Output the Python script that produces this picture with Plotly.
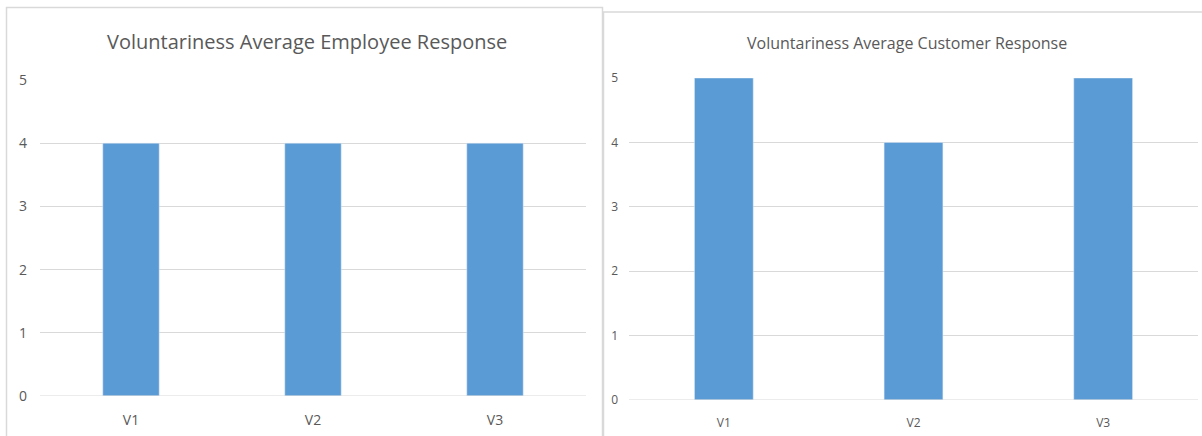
import plotly.graph_objects as go

# Average voluntariness scores per item
categories = ["V1", "V2", "V3"]
employee_avg = [4, 4, 4]
customer_avg = [5, 4, 5]
y_ticks = [0, 1, 2, 3, 4, 5]

W, H = 1202, 436
BAR = "#5b9bd5"
GRID = "#d9d9d9"
TXT = "#595959"
FONT = "Open Sans"


def px_x(v):
    return v / W


def px_y(v):
    return 1 - v / H


fig = go.Figure()
fig.add_trace(go.Bar(x=categories, y=employee_avg, marker_color=BAR, width=0.31,
                     xaxis="x", yaxis="y", hoverinfo="x+y"))
fig.add_trace(go.Bar(x=categories, y=customer_avg, marker_color=BAR, width=0.31,
                     xaxis="x2", yaxis="y2", hoverinfo="x+y"))

axis_common = dict(showline=False, zeroline=False, ticks="", fixedrange=True,
                   automargin=False)

fig.update_layout(
    width=W, height=H,
    margin=dict(l=0, r=0, t=0, b=0, autoexpand=False),
    paper_bgcolor="white", plot_bgcolor="white",
    showlegend=False,
    font=dict(family=FONT, color=TXT),
    xaxis=dict(domain=[px_x(40), px_x(586)], anchor="y", showgrid=False,
               tickfont=dict(size=14, color=TXT), ticklabelstandoff=14, **axis_common),
    yaxis=dict(domain=[px_y(396), px_y(80)], anchor="x", range=[0, 5],
               tickvals=y_ticks, showgrid=True, gridcolor=GRID, gridwidth=1,
               tickfont=dict(size=14, color=TXT), ticklabelstandoff=12, **axis_common),
    xaxis2=dict(domain=[px_x(629), px_x(1198)], anchor="y2", showgrid=False,
                tickfont=dict(size=12, color=TXT), ticklabelstandoff=14, **axis_common),
    yaxis2=dict(domain=[px_y(400), px_y(78)], anchor="x2", range=[0, 5],
                tickvals=y_ticks, showgrid=True, gridcolor=GRID, gridwidth=1,
                tickfont=dict(size=12, color=TXT), ticklabelstandoff=10, **axis_common),
    shapes=[
        # chart frames
        dict(type="rect", xref="paper", yref="paper",
             x0=px_x(6.5), x1=px_x(602.5), y0=px_y(440), y1=px_y(7.5),
             line=dict(color=GRID, width=1.5), fillcolor="rgba(0,0,0,0)", layer="below"),
        dict(type="rect", xref="paper", yref="paper",
             x0=px_x(603.5), x1=px_x(1206), y0=px_y(440), y1=px_y(12),
             line=dict(color=GRID, width=1.5), fillcolor="rgba(0,0,0,0)", layer="below"),
        # baselines at zero
        dict(type="line", xref="x domain", yref="y", x0=0, x1=1, y0=0, y1=0,
             line=dict(color=GRID, width=1)),
        dict(type="line", xref="x2 domain", yref="y2", x0=0, x1=1, y0=0, y1=0,
             line=dict(color=GRID, width=1)),
    ],
    annotations=[
        dict(text="Voluntariness Average Employee Response", xref="paper", yref="paper",
             x=px_x(307), y=px_y(42), showarrow=False, xanchor="center", yanchor="middle",
             font=dict(size=20, color=TXT, family=FONT)),
        dict(text="Voluntariness Average Customer Response", xref="paper", yref="paper",
             x=px_x(907), y=px_y(43), showarrow=False, xanchor="center", yanchor="middle",
             font=dict(size=16, color=TXT, family=FONT)),
    ],
)

fig.write_html("out.html")
